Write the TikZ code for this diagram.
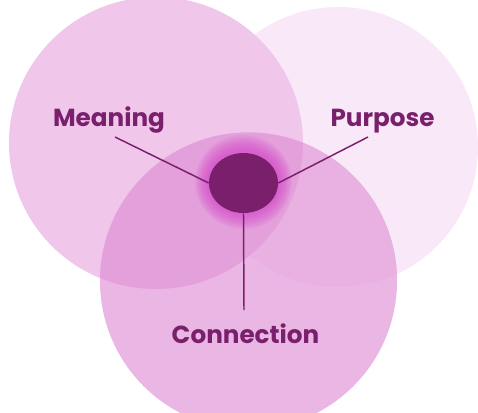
\documentclass[tikz,border=0pt]{standalone}
\usepackage{fontspec}
\setmainfont{Poppins}
\usetikzlibrary{shapes.geometric}
\definecolor{plum}{HTML}{7A1F6C}
\definecolor{glow}{HTML}{D43CC8}
\definecolor{purposefill}{HTML}{F9E8F7}
\definecolor{meaningfill}{HTML}{F0C6EB}
\definecolor{connectfill}{HTML}{EAB6E4}
\definecolor{cpfill}{HTML}{E8B1E2}
\definecolor{cmfill}{HTML}{E3A0DB}

\begin{document}
\begin{tikzpicture}[x=0.75pt,y=-0.75pt,
	tag/.style={text=plum,font=\fontsize{18.5}{20}\selectfont\bfseries,inner sep=0pt,anchor=base},
	link/.style={draw=plum,line width=1.1pt},
	core/.style={ellipse,fill=plum,minimum width=51.75pt,minimum height=45pt,inner sep=0pt},
	]
	\useasboundingbox (0,0) rectangle (478,412);
	% the three circles
	\def\purposecirc{(338,147) ellipse (140 and 140)}
	\def\meaningcirc{(156,143) ellipse (147 and 146)}
	\def\connectcirc{(248.5,281) ellipse (148.5 and 148.5)}
	\fill[purposefill] \purposecirc;
	\fill[meaningfill] \meaningcirc;
	\fill[connectfill] \connectcirc;
	\begin{scope}
		\clip \purposecirc;
		\fill[cpfill] \connectcirc;
	\end{scope}
	\begin{scope}
		\clip \meaningcirc;
		\fill[cmfill] \connectcirc;
	\end{scope}
	% glow round the core
	\foreach \i in {1,...,10}
		\fill[glow,fill opacity=0.09] (243.5,182) ellipse ({34.5+1.4*\i} and {30+1.7*\i});
	\node[core] (core) at (243.5,183) {};
	% labels
	\node[tag] (meaning) at (109,126) {Meaning};
	\node[tag] (purpose) at (382.5,126) {Purpose};
	\node[tag] (connection) at (245.5,343) {Connection};
	\coordinate (m-end) at (115,137);
	\coordinate (p-end) at (368,137);
	\coordinate (c-end) at (244,310);
	\draw[link] (m-end) -- (core.west);
	\draw[link] (p-end) -- (core.east);
	\draw[link] (core.south) -- (c-end);
\end{tikzpicture}
\end{document}
